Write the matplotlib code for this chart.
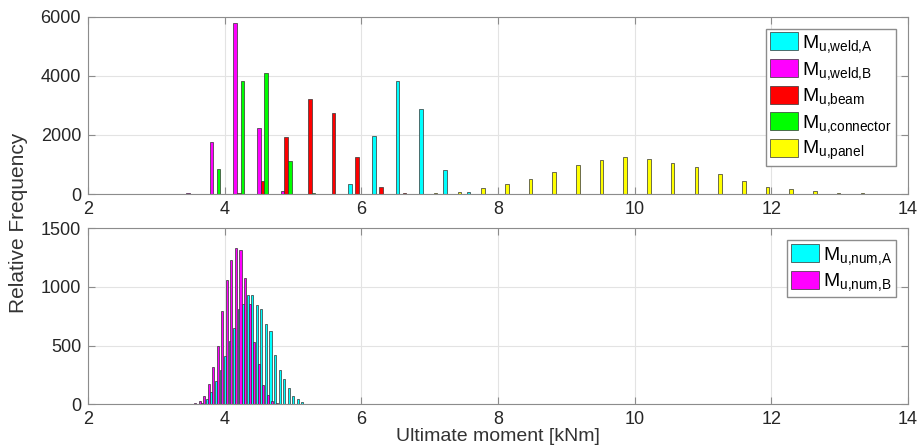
import numpy as np
import matplotlib
matplotlib.use('Agg')
import matplotlib.pyplot as plt

plt.rcParams['font.family'] = ['Liberation Sans', 'DejaVu Sans']
plt.rcParams['mathtext.fontset'] = 'custom'
plt.rcParams['mathtext.rm'] = 'Liberation Sans'
plt.rcParams['mathtext.it'] = 'Liberation Sans:italic'

# top panel: common bin centres (30 bins), counts per limit state
bin_centres = 3.512 + 0.347 * np.arange(30)
weld_A = [0, 0, 0, 0, 0, 10, 15, 350, 1980, 3811, 2867, 810, 70, 10,
          0, 0, 0, 0, 0, 0, 0, 0, 0, 0, 0, 0, 0, 0, 0, 0]
weld_B = [40, 1770, 5800, 2250, 90, 0, 0, 0, 0, 0, 0, 0, 0, 0,
          0, 0, 0, 0, 0, 0, 0, 0, 0, 0, 0, 0, 0, 0, 0, 0]
beam = [5, 15, 50, 450, 1913, 3213, 2755, 1248, 236, 25, 0, 0, 0, 0,
        0, 0, 0, 0, 0, 0, 0, 0, 0, 0, 0, 0, 0, 0, 0, 0]
connector = [10, 843, 3811, 4090, 1123, 20, 0, 0, 0, 0, 0, 0, 0, 0,
             0, 0, 0, 0, 0, 0, 0, 0, 0, 0, 0, 0, 0, 0, 0, 0]
panel = [0, 0, 0, 0, 0, 0, 5, 5, 10, 10, 35, 80, 200, 330, 505, 740,
         990, 1136, 1260, 1180, 1058, 900, 664, 428, 236, 158, 90, 35, 20, 8]

# bottom panel: numerical results
num_A_x = 3.607 + 0.0665 * np.arange(24)
num_A = [5, 15, 48, 104, 197, 288, 415, 540, 652, 816, 853, 934, 929, 844,
         810, 686, 621, 424, 291, 218, 138, 70, 42, 17]
num_B_x = 3.500 + 0.0665 * np.arange(20)
num_B = [5, 10, 25, 70, 170, 322, 500, 796, 1056, 1231, 1335, 1313, 1078,
         853, 528, 345, 161, 76, 28, 8]

top_labels = [r'M$_{\mathrm{u{,}weld{,}A}}$', r'M$_{\mathrm{u{,}weld{,}B}}$',
              r'M$_{\mathrm{u{,}beam}}$', r'M$_{\mathrm{u{,}connector}}$',
              r'M$_{\mathrm{u{,}panel}}$']
bot_labels = [r'M$_{\mathrm{u{,}num{,}A}}$', r'M$_{\mathrm{u{,}num{,}B}}$']
colors = ['#00ffff', '#ff00ff', '#ff0000', '#00ff00', '#ffff00']

fig = plt.figure(figsize=(9.17, 4.45), dpi=100)
ax1 = fig.add_axes([0.096, 0.564, 0.894, 0.3985])
ax2 = fig.add_axes([0.096, 0.0915, 0.894, 0.3955])


def style(ax, ymax, yticks):
    ax.set_xlim(2, 14)
    ax.set_ylim(0, ymax)
    ax.set_xticks(range(2, 15, 2))
    ax.set_yticks(yticks)
    ax.grid(True, color='#e3e3e3', lw=0.8)
    ax.set_axisbelow(True)
    ax.tick_params(direction='in', top=True, right=True, length=5,
                   width=0.8, color='#8c8c8c', labelsize=13, pad=5,
                   labelcolor='#262626')
    for s in ax.spines.values():
        s.set_color('#8c8c8c')
        s.set_linewidth(0.8)


leg_kw = dict(loc='upper right', bbox_to_anchor=(0.99, 0.955), fontsize=14,
              handlelength=1.45, handleheight=1.05, handletextpad=0.2,
              labelspacing=0.2, borderpad=0.2, borderaxespad=0.2,
              fancybox=False, edgecolor='#8c8c8c', framealpha=1)

w = 0.053
series = [weld_A, weld_B, beam, connector, panel]
for i, (vals, c, lab) in enumerate(zip(series, colors, top_labels)):
    ax1.bar(bin_centres + (i - 2) * w, vals, width=w, color=c,
            edgecolor='#333333', linewidth=0.5, label=lab)
style(ax1, 6000, [0, 2000, 4000, 6000])
ax1.legend(**leg_kw)

ax2.bar(num_A_x, num_A, width=0.03, color=colors[0], edgecolor='#333333',
        linewidth=0.5, label=bot_labels[0])
ax2.bar(num_B_x, num_B, width=0.03, color=colors[1], edgecolor='#333333',
        linewidth=0.5, label=bot_labels[1])
style(ax2, 1500, [0, 500, 1000, 1500])
ax2.legend(**leg_kw)

ax2.set_xlabel('Ultimate moment [kNm]', fontsize=14, color='#333333', labelpad=0)
fig.text(0.02, 0.5, 'Relative Frequency', rotation=90, fontsize=15,
         color='#333333', ha='center', va='center')

fig.savefig('out.png', dpi=100)
